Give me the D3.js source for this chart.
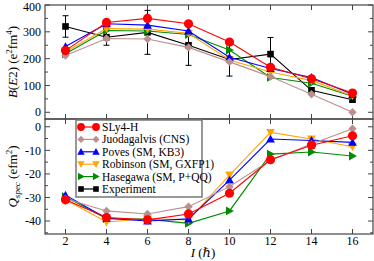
<!DOCTYPE html>
<html>
<head>
<meta charset="utf-8">
<script src="https://cdn.jsdelivr.net/npm/d3@7/dist/d3.min.js"></script>
<style>
  body { margin: 0; background: #fff; }
  svg text { font-family: "Liberation Serif", "DejaVu Serif", serif; }
</style>
</head>
<body>
<div id="chart"></div>
<script>
'use strict';

// spin values (hbar)
const spins = [2, 4, 6, 8, 10, 12, 14, 16];

// B(E2) values, e^2 fm^4
const be2Sly4 = [230, 335, 350, 330, 262, 168, 125, 72];
const be2Juod = [212, 275, 273, 242, 188, 133, 67, 0];
const be2Poves = [245, 330, 325, 303, 205, 163, 130, 67];
const be2Robinson = [225, 312, 310, 295, 195, 150, 118, 62];
const be2Hasegawa = [218, 305, 303, 290, 232, 130, 108, 60];
const be2Exp = [320, 280, 298, 250, 197, 217, 82, 47];
const be2ExpErr = [40, 30, 82, 75, 62, 62, 10, 8];

// spectroscopic quadrupole moments, e fm^2
const qSly4 = [-31, -38.5, -39.5, -37, -28.2, -14, -7.8, -3.8];
const qJuod = [-30.5, -35.7, -37, -33.9, -25.4, -14.2, -7.3, -0.8];
const qPoves = [-29, -38.8, -40, -39.1, -22.6, -5.2, -5.8, -6.6];
const qRobinson = [-31, -40.4, -39, -39.5, -20.5, -2.4, -5.2, -8.5];
const qHasegawa = [-29.7, -39, -39.2, -41, -35.7, -11.6, -10.7, -12.4];

const topTicks = [0, 100, 200, 300, 400];
const botTicks = [0, -10, -20, -30, -40];
const xTicks = [2, 4, 6, 8, 10, 12, 14, 16];

const series = [
  { name: 'SLy4-H', color: '#ff0000', sym: 'circle', be2: be2Sly4, q: qSly4 },
  { name: 'Juodagalvis (CNS)', color: '#bc8f8f', sym: 'diamond', be2: be2Juod, q: qJuod },
  { name: 'Poves (SM, KB3)', color: '#0000ff', sym: 'up', be2: be2Poves, q: qPoves },
  { name: 'Robinson (SM, GXFP1)', color: '#ffa500', sym: 'down', be2: be2Robinson, q: qRobinson },
  { name: 'Hasegawa (SM, P+QQ)', color: '#008b00', sym: 'right', be2: be2Hasegawa, q: qHasegawa },
  { name: 'Experiment', color: '#000000', sym: 'square', be2: be2Exp, q: null }
];

const W = 374, H = 261;
const pLeft = 45, pRight = 373, pTop = 5, pMid = 119, pBottom = 234;

const svg = d3.select('#chart').append('svg')
  .attr('width', W).attr('height', H);

const x = d3.scaleLinear().domain([1, 17]).range([pLeft, pRight]);
const yTop = d3.scaleLinear().domain([-25, 400]).range([pMid, pTop]);
const yBot = d3.scaleLinear().domain([3.3, -45.5]).range([pMid, pBottom]);

function symbolPath(sym, s) {
  // s is half size
  switch (sym) {
    case 'circle':
      return d3.symbol().type(d3.symbolCircle).size(Math.PI * s * s)();
    case 'square':
      return `M${-s},${-s}H${s}V${s}H${-s}Z`;
    case 'diamond':
      return `M0,${-s}L${s},0L0,${s}L${-s},0Z`;
    case 'up':
      return `M0,${-s}L${s},${s * 0.8}L${-s},${s * 0.8}Z`;
    case 'down':
      return `M0,${s}L${s},${-s * 0.8}L${-s},${-s * 0.8}Z`;
    case 'right':
      return `M${s},0L${-s * 0.8},${s}L${-s * 0.8},${-s}Z`;
  }
}

const symSize = { circle: 4.6, square: 3.3, diamond: 4.2, up: 4.4, down: 4.4, right: 4.4 };

function drawPanel(y, y0, y1, ticks, minorStep) {
  const g = svg.append('g');
  // frame
  g.append('rect')
    .attr('x', pLeft).attr('y', y0)
    .attr('width', pRight - pLeft).attr('height', y1 - y0)
    .attr('fill', 'none').attr('stroke', '#444').attr('stroke-width', 1.2);

  // x ticks, top and bottom, pointing in
  xTicks.forEach(t => {
    g.append('line').attr('x1', x(t)).attr('x2', x(t))
      .attr('y1', y0).attr('y2', y0 + 5).attr('stroke', '#444');
    g.append('line').attr('x1', x(t)).attr('x2', x(t))
      .attr('y1', y1).attr('y2', y1 - 5).attr('stroke', '#444');
  });

  // y ticks, major and minor
  const [d0, d1] = y.domain();
  const lo = Math.min(d0, d1), hi = Math.max(d0, d1);
  for (let v = Math.ceil(lo / minorStep) * minorStep; v <= hi; v += minorStep) {
    const major = ticks.includes(v);
    const len = major ? 5 : 3;
    g.append('line').attr('x1', pLeft).attr('x2', pLeft + len)
      .attr('y1', y(v)).attr('y2', y(v)).attr('stroke', '#444');
    g.append('line').attr('x1', pRight).attr('x2', pRight - len)
      .attr('y1', y(v)).attr('y2', y(v)).attr('stroke', '#444');
  }
  ticks.forEach(t => {
    // keep the top label inside the window
    g.append('text').attr('x', pLeft - 4).attr('y', Math.max(y(t), 6.5))
      .attr('dy', '0.35em').attr('text-anchor', 'end')
      .attr('font-size', 12).text(t);
  });
  return g;
}

drawPanel(yTop, pTop, pMid, topTicks, 50);
drawPanel(yBot, pMid, pBottom, botTicks, 5);

// x tick labels
xTicks.forEach(t => {
  svg.append('text').attr('x', x(t)).attr('y', 245)
    .attr('text-anchor', 'middle').attr('font-size', 12).text(t);
});

// axis titles
const xl = svg.append('text').attr('x', 203).attr('y', 257)
  .attr('text-anchor', 'middle').attr('font-size', 13);
xl.append('tspan').attr('font-style', 'italic').text('I');
xl.append('tspan').text(' (\u210F)');

const yl1 = svg.append('text')
  .attr('transform', `translate(17,${(pTop + pMid) / 2}) rotate(-90)`)
  .attr('text-anchor', 'middle').attr('font-size', 13);
yl1.append('tspan').attr('font-style', 'italic').text('B');
yl1.append('tspan').text('(');
yl1.append('tspan').attr('font-style', 'italic').text('E');
yl1.append('tspan').text('2) (e');
yl1.append('tspan').attr('font-size', 9).attr('dy', -5).text('2');
yl1.append('tspan').attr('dy', 5).text('fm');
yl1.append('tspan').attr('font-size', 9).attr('dy', -5).text('4');
yl1.append('tspan').attr('dy', 5).text(')');

const yl2 = svg.append('text')
  .attr('transform', `translate(17,${(pMid + pBottom) / 2}) rotate(-90)`)
  .attr('text-anchor', 'middle').attr('font-size', 13);
yl2.append('tspan').attr('font-style', 'italic').text('Q');
yl2.append('tspan').attr('font-style', 'italic').attr('font-size', 9).attr('dy', 3).text('spec');
yl2.append('tspan').attr('dy', -3).text(' (efm');
yl2.append('tspan').attr('font-size', 9).attr('dy', -5).text('2');
yl2.append('tspan').attr('dy', 5).text(')');

// experiment error bars
const errG = svg.append('g').attr('stroke', '#000').attr('stroke-width', 1);
spins.forEach((s, i) => {
  const lo = yTop(be2Exp[i] - be2ExpErr[i]), hi = yTop(be2Exp[i] + be2ExpErr[i]);
  errG.append('line').attr('x1', x(s)).attr('x2', x(s)).attr('y1', lo).attr('y2', hi);
  errG.append('line').attr('x1', x(s) - 3).attr('x2', x(s) + 3).attr('y1', lo).attr('y2', lo);
  errG.append('line').attr('x1', x(s) - 3).attr('x2', x(s) + 3).attr('y1', hi).attr('y2', hi);
});

function drawSeries(y, values, sr) {
  const pts = spins.map((s, i) => [x(s), y(values[i])]);
  svg.append('path').datum(pts)
    .attr('d', d3.line())
    .attr('fill', 'none').attr('stroke', sr.color).attr('stroke-width', 1.1);
  svg.append('g').selectAll('path').data(pts).enter().append('path')
    .attr('transform', d => `translate(${d[0]},${d[1]})`)
    .attr('d', symbolPath(sr.sym, symSize[sr.sym]))
    .attr('fill', sr.color);
}

// draw in reverse so SLy4-H ends on top
series.slice().reverse().forEach(sr => {
  drawSeries(yTop, sr.be2, sr);
  if (sr.q) drawSeries(yBot, sr.q, sr);
});

// legend
const lg = svg.append('g');
lg.append('rect').attr('x', 76).attr('y', 120).attr('width', 126).attr('height', 77)
  .attr('fill', '#fff').attr('stroke', '#777').attr('stroke-width', 1.5);
series.forEach((sr, i) => {
  const ly = 127 + i * 12.4;
  lg.append('line').attr('x1', 81).attr('x2', 96).attr('y1', ly).attr('y2', ly)
    .attr('stroke', sr.color).attr('stroke-width', 1.2);
  [81, 96].forEach(px => {
    lg.append('path').attr('transform', `translate(${px},${ly})`)
      .attr('d', symbolPath(sr.sym, symSize[sr.sym] * 0.85))
      .attr('fill', sr.color);
  });
  lg.append('text').attr('x', 102).attr('y', ly).attr('dy', '0.35em')
    .attr('font-size', 11.5).text(sr.name);
});
</script>
</body>
</html>
